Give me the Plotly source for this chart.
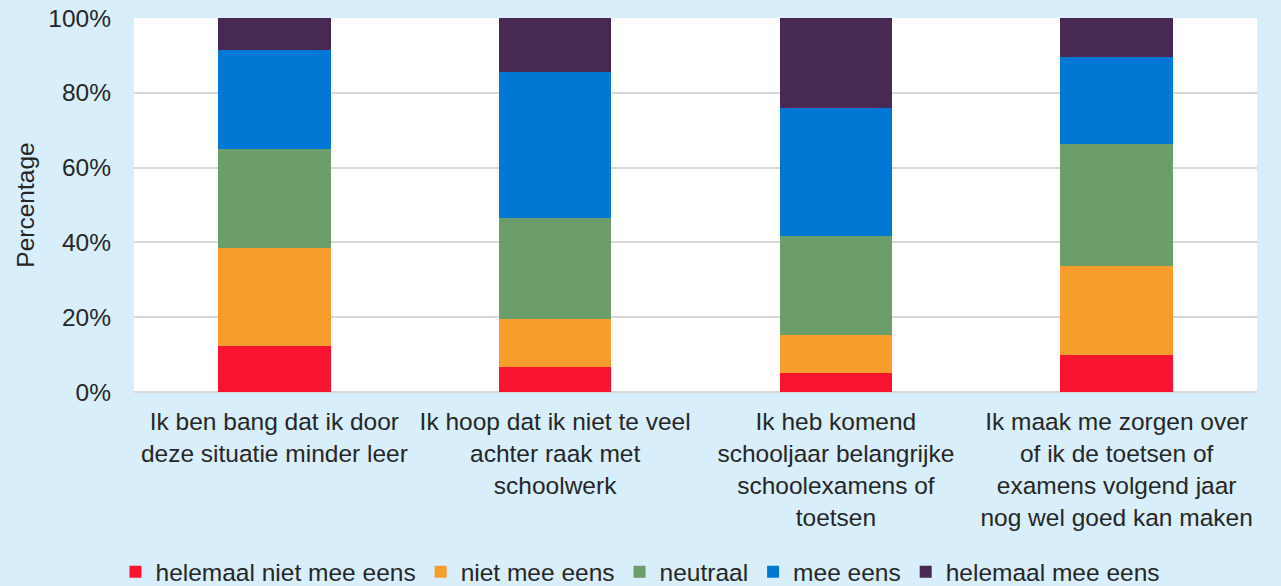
import plotly.graph_objects as go

categories = [
    "Ik ben bang dat ik door<br>deze situatie minder leer",
    "Ik hoop dat ik niet te veel<br>achter raak met<br>schoolwerk",
    "Ik heb komend<br>schooljaar belangrijke<br>schoolexamens of<br>toetsen",
    "Ik maak me zorgen over<br>of ik de toetsen of<br>examens volgend jaar<br>nog wel goed kan maken",
]
series_names = ["helemaal niet mee eens", "niet mee eens", "neutraal", "mee eens", "helemaal mee eens"]
helemaal_niet = [12.3, 6.7, 5.1, 9.8]
niet = [26.1, 12.8, 10.1, 23.8]
neutraal = [26.6, 26.9, 26.4, 32.6]
mee = [26.5, 39.2, 34.3, 23.3]
helemaal_mee = [8.5, 14.4, 24.1, 10.5]
colors = ["#F8142F", "#F89C2E", "#6C9E6C", "#0078D4", "#472953"]

values = [helemaal_niet, niet, neutraal, mee, helemaal_mee]

fig = go.Figure()
for name, vals, col in zip(series_names, values, colors):
    fig.add_trace(go.Bar(
        x=categories, y=vals, name=name,
        marker=dict(color=col, line=dict(width=0)),
        width=0.4,
    ))

font_family = "Liberation Sans, Arial, sans-serif"
text_color = "#262626"
fs = 24.5

fig.update_layout(
    barmode="stack",
    width=1281, height=586,
    paper_bgcolor="#D8EEFA",
    plot_bgcolor="#FFFFFF",
    margin=dict(l=134, r=24, t=18, b=194, autoexpand=False),
    font=dict(family=font_family, size=fs, color=text_color),
    showlegend=True,
    legend=dict(
        orientation="h",
        xref="container", xanchor="center", x=0.5,
        yref="container", yanchor="middle", y=0.024,
        font=dict(size=fs, color=text_color),
        bgcolor="rgba(0,0,0,0)",
        traceorder="normal",
        itemwidth=30,
    ),
    bargap=0.6,
)
fig.update_xaxes(
    showgrid=False, zeroline=False, showline=False, automargin=False,
    ticks="outside", ticklen=8, tickcolor="rgba(0,0,0,0)",
    tickfont=dict(size=fs, color=text_color),
)
fig.update_yaxes(
    range=[0, 100], automargin=False,
    tickvals=[0, 20, 40, 60, 80, 100],
    ticktext=["0%", "20%", "40%", "60%", "80%", "100%"],
    showgrid=True, gridcolor="#D9D9D9", gridwidth=2,
    zeroline=True, zerolinecolor="#D9D9D9", zerolinewidth=2,
    showline=False,
    ticklabelstandoff=22,
    tickfont=dict(size=fs, color=text_color),
    title=dict(text="Percentage", font=dict(size=fs, color=text_color), standoff=6),
)

fig.write_html(
    "out.html",
    config={"displayModeBar": False},
    post_script="document.body.style.margin='0';document.body.style.overflow='hidden';",
)
